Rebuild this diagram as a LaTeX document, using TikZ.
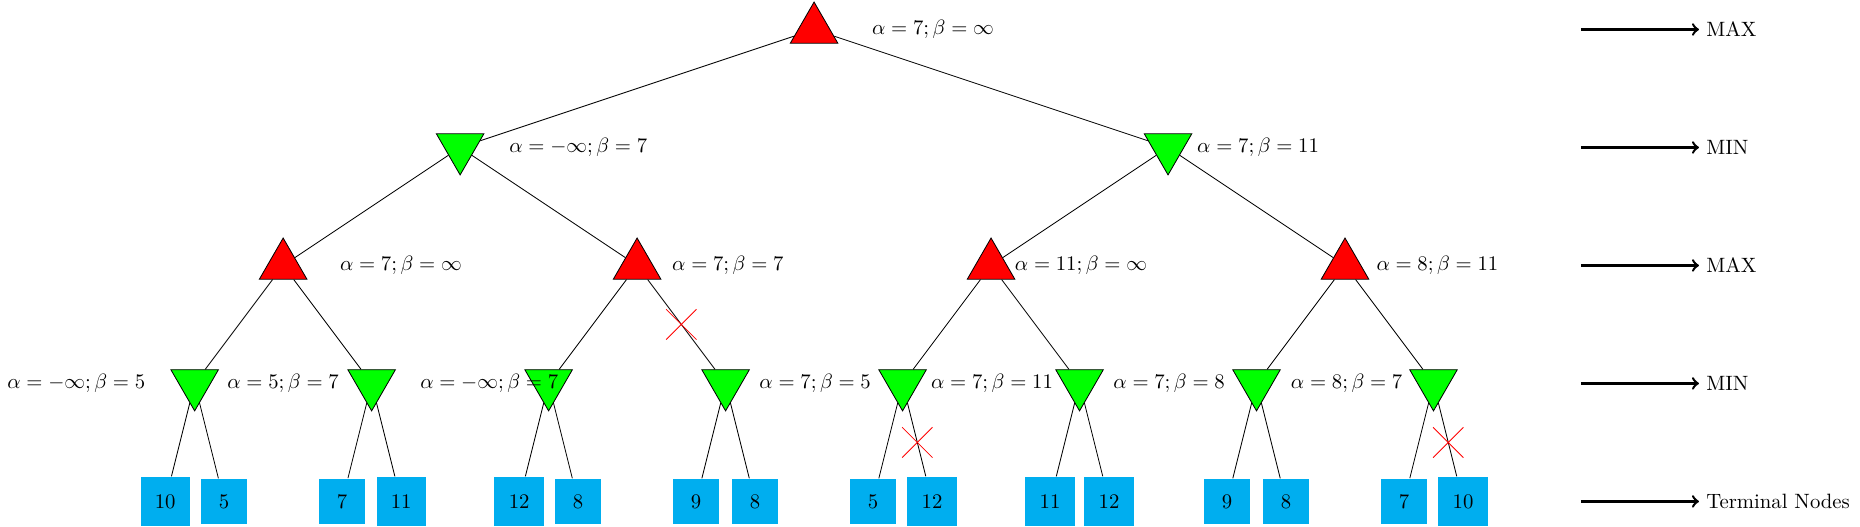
\documentclass[tikz,border=0pt]{standalone}
\usetikzlibrary{shapes.geometric,shapes.misc,calc}
\definecolor{leafblue}{RGB}{0,174,239}

\begin{document}
\begin{tikzpicture}[
	maxnode/.style={regular polygon, regular polygon sides=3, draw, fill=red, minimum size=0.93cm, inner sep=0pt},
	minnode/.style={maxnode, fill=green, shape border rotate=180},
	leaf/.style={regular polygon, regular polygon sides=4, fill=leafblue, inner xsep=3.4pt, inner ysep=4.3pt},
	cut/.style={cross out, draw=red, minimum size=0.5cm, inner sep=0pt}]
	\useasboundingbox (-13.8,-8.43) rectangle (17.73,0.5);

	% tree
	\node[maxnode] (r) at (0,0) {};
	\node[minnode] (a1) at (-6,-2) {};
	\node[minnode] (a2) at (6,-2) {};
	\foreach \i/\x in {1/-9,2/-3,3/3,4/9}
		\node[maxnode] (b\i) at (\x,-4) {};
	\foreach \i/\x in {1/-10.5,2/-7.5,3/-4.5,4/-1.5,5/1.5,6/4.5,7/7.5,8/10.5}
		\node[minnode] (c\i) at (\x,-6) {};
	\foreach \i/\x/\v in {1/-11/10,2/-10/5,3/-8/7,4/-7/11,5/-5/12,6/-4/8,7/-2/9,8/-1/8,
		9/1/5,10/2/12,11/4/11,12/5/12,13/7/9,14/8/8,15/10/7,16/11/10}
		\node[leaf] (t\i) at (\x,-8) {\v};

	\draw (r) -- (a1);
	\draw (r) -- (a2);
	\foreach \p/\c in {a1/b1,a1/b2,a2/b3,a2/b4}
		\draw (\p) -- (\c);
	\foreach \i [evaluate=\i as \p using int((\i+1)/2)] in {1,...,8}
		\draw (b\p) -- (c\i);
	\foreach \i [evaluate=\i as \j using int(2*\i-1), evaluate=\i as \k using int(2*\i)] in {1,...,8}{
		\draw (c\i) -- (t\j);
		\draw (c\i) -- (t\k);}

	% pruned branches
	\node[cut] (x1) at ($(b2)!0.5!(c4)$) {};
	\node[cut] (x2) at ($(c5)!0.5!(t10)$) {};
	\node[cut] (x3) at ($(c8)!0.5!(t16)$) {};

	% alpha / beta values
	\node[right] (lr) at (0.86,0) {$\alpha=7;\beta=\infty$};
	\node[right] (la1) at (-5.29,-2) {$\alpha=-\infty;\beta=7$};
	\node[right] (la2) at (6.37,-2) {$\alpha=7;\beta=11$};
	\node[right] (lb1) at (-8.16,-4) {$\alpha=7;\beta=\infty$};
	\node[right] (lb2) at (-2.53,-4) {$\alpha=7;\beta=7$};
	\node[right] (lb3) at (3.28,-4) {$\alpha=11;\beta=\infty$};
	\node[right] (lb4) at (9.41,-4) {$\alpha=8;\beta=11$};
	\node[right] (lc1) at (-13.8,-6) {$\alpha=-\infty;\beta=5$};
	\node[right] (lc2) at (-10.07,-6) {$\alpha=5;\beta=7$};
	\node[right] (lc3) at (-6.8,-6) {$\alpha=-\infty;\beta=7$};
	\node[right] (lc4) at (-1.05,-6) {$\alpha=7;\beta=5$};
	\node[right] (lc5) at (1.86,-6) {$\alpha=7;\beta=11$};
	\node[right] (lc6) at (4.95,-6) {$\alpha=7;\beta=8$};
	\node[right] (lc7) at (7.96,-6) {$\alpha=8;\beta=7$};

	% levels
	\foreach \y/\t [count=\i] in {0/MAX,-2/MIN,-4/MAX,-6/MIN,-8/Terminal Nodes}{
		\coordinate (s\i) at (13,\y);
		\node[right] (k\i) at (15,\y) {\t};
		\draw[->, very thick] (s\i) -- (k\i);}

\end{tikzpicture}
\end{document}
